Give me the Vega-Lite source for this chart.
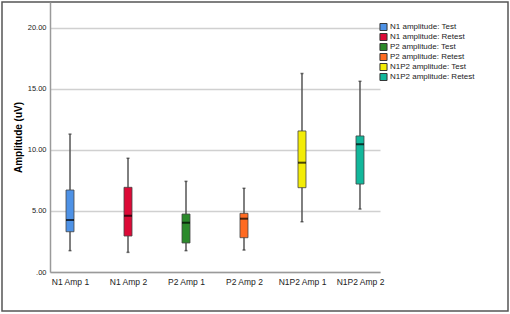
{
  "$schema": "https://vega.github.io/schema/vega-lite/v6.json",
  "width": 506,
  "height": 309,
  "autosize": {"type": "none"},
  "padding": {"left": 2, "top": 2, "right": 2, "bottom": 3},
  "background": "white",
  "config": {
    "font": "Liberation Sans",
    "view": {"stroke": "#555555", "strokeWidth": 1.5}
  },
  "data": {
    "values": [
      {"label": "N1 Amp 1", "series": "N1 amplitude: Test", "min": 1.75, "q1": 3.3, "median": 4.26, "q3": 6.72, "max": 11.3},
      {"label": "N1 Amp 2", "series": "N1 amplitude: Retest", "min": 1.61, "q1": 2.95, "median": 4.62, "q3": 6.94, "max": 9.32},
      {"label": "P2 Amp 1", "series": "P2 amplitude: Test", "min": 1.75, "q1": 2.38, "median": 4.04, "q3": 4.75, "max": 7.43},
      {"label": "P2 Amp 2", "series": "P2 amplitude: Retest", "min": 1.8, "q1": 2.81, "median": 4.37, "q3": 4.81, "max": 6.86},
      {"label": "N1P2 Amp 1", "series": "N1P2 amplitude: Test", "min": 4.12, "q1": 6.91, "median": 8.96, "q3": 11.56, "max": 16.27},
      {"label": "N1P2 Amp 2", "series": "N1P2 amplitude: Retest", "min": 5.16, "q1": 7.21, "median": 10.47, "q3": 11.15, "max": 15.63}
    ]
  },
  "encoding": {
    "x": {
      "field": "label",
      "type": "nominal",
      "sort": null,
      "scale": {"type": "point", "range": [48, 378], "padding": 0.345},
      "axis": {
        "title": null,
        "offset": -39,
        "ticks": false,
        "labelAngle": 0,
        "labelFontSize": 8.5,
        "labelColor": "#222222",
        "labelPadding": 5,
        "domainColor": "#9a9a9a",
        "domainWidth": 1.5,
        "grid": false
      }
    }
  },
  "layer": [
    {
      "mark": {"type": "rule", "color": "#555555", "strokeWidth": 1.5},
      "encoding": {
        "y": {
          "field": "min",
          "type": "quantitative",
          "scale": {"domain": [0, 22.13], "range": [270, 0], "nice": false, "zero": false},
          "axis": {
            "title": "Amplitude (uV)",
            "titleFontSize": 10,
            "titleFontWeight": "bold",
            "titleColor": "#000000",
            "titlePadding": 4,
            "offset": -48,
            "values": [0, 5, 10, 15, 20],
            "labelExpr": "datum.value == 0 ? '.00' : format(datum.value, '.2f')",
            "labelFontSize": 7.5,
            "labelColor": "#222222",
            "labelPadding": 4,
            "ticks": false,
            "domainColor": "#9a9a9a",
            "domainWidth": 1.5,
            "grid": true,
            "gridColor": "#d0d0d0",
            "gridWidth": 1.5
          }
        },
        "y2": {"field": "max"}
      }
    },
    {
      "mark": {"type": "tick", "color": "#333333", "thickness": 1.5, "size": 3},
      "encoding": {"y": {"field": "min", "type": "quantitative"}}
    },
    {
      "mark": {"type": "tick", "color": "#333333", "thickness": 1.5, "size": 3},
      "encoding": {"y": {"field": "max", "type": "quantitative"}}
    },
    {
      "mark": {"type": "bar", "size": 8, "stroke": "#444444", "strokeWidth": 0.8},
      "encoding": {
        "y": {"field": "q1", "type": "quantitative"},
        "y2": {"field": "q3"},
        "color": {
          "field": "series",
          "type": "nominal",
          "sort": null,
          "scale": {
            "domain": ["N1 amplitude: Test", "N1 amplitude: Retest", "P2 amplitude: Test", "P2 amplitude: Retest", "N1P2 amplitude: Test", "N1P2 amplitude: Retest"],
            "range": ["#4e92e6", "#dc0a37", "#2b8a2b", "#ff6b22", "#f3ec06", "#12b79b"]
          },
          "legend": {
            "title": null,
            "orient": "none",
            "legendX": 377,
            "legendY": 21,
            "symbolType": "square",
            "symbolSize": 50,
            "symbolStrokeColor": "#333333",
            "symbolStrokeWidth": 1,
            "labelFontSize": 8,
            "labelColor": "#222222",
            "labelOffset": 2,
            "clipHeight": 8,
            "rowPadding": 2,
            "padding": 0
          }
        }
      }
    },
    {
      "mark": {"type": "tick", "color": "#000000", "thickness": 2, "size": 8},
      "encoding": {"y": {"field": "median", "type": "quantitative"}}
    }
  ]
}
